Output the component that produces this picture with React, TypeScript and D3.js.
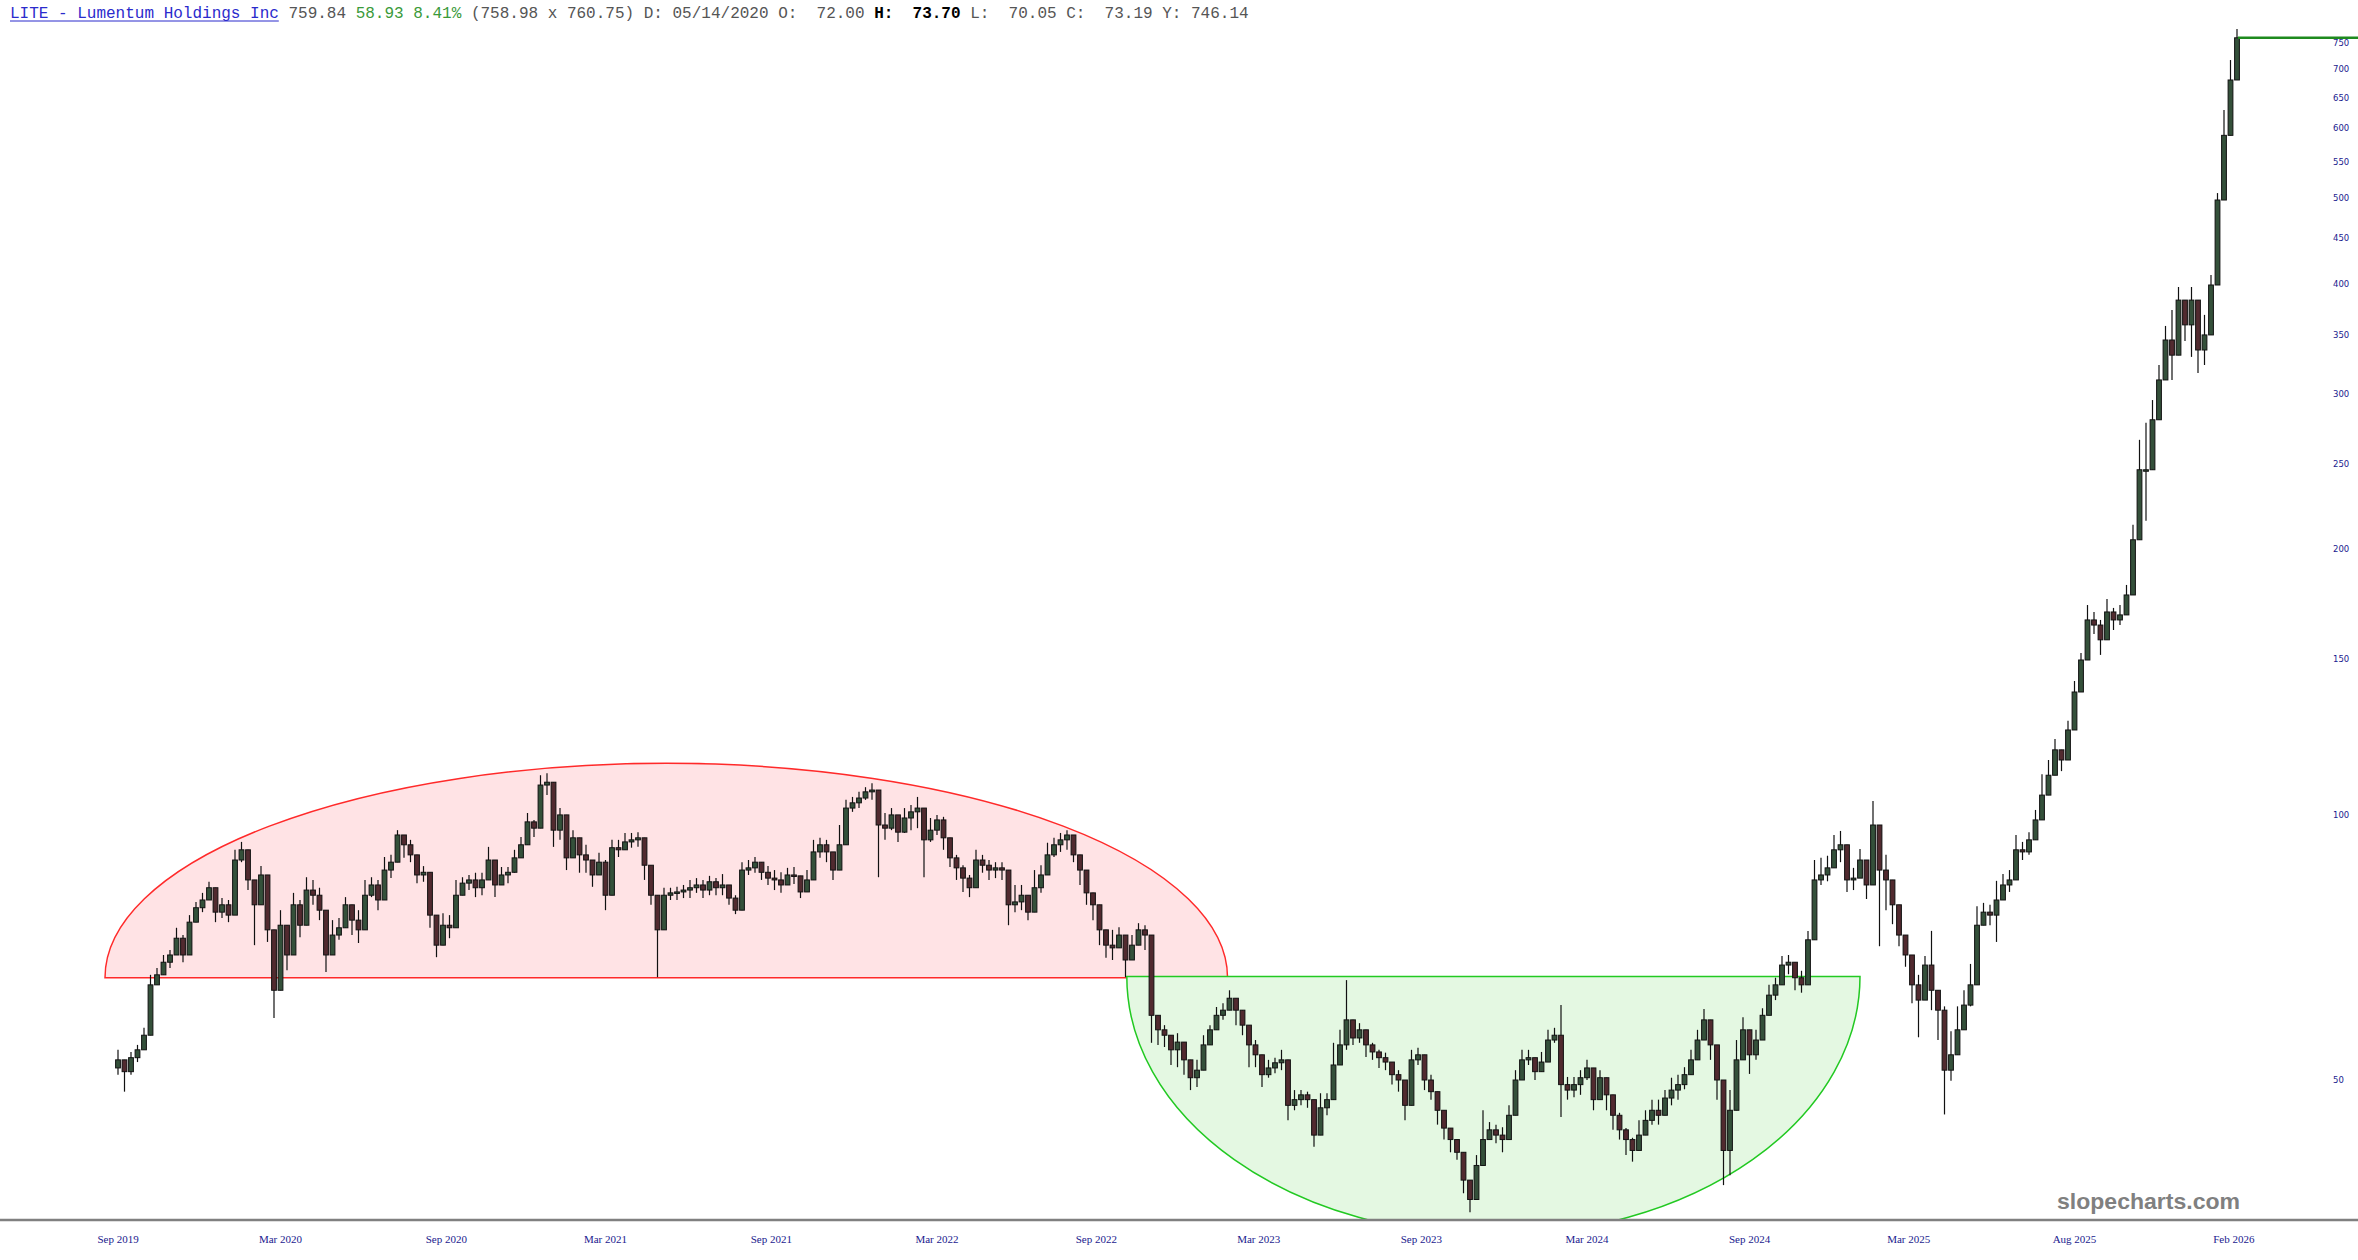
import React from "react";
import * as d3 from "d3";

// Weekly bars: [high, low, close]; open = previous close
const firstOpen = 51.6;

const barsAug2019toFeb2021: [number, number, number][] = [
  [54.1,50.7,52.7],[52.4,48.5,51.1],[53.8,50.7,53.0],[54.8,52.4,54.1],[57.3,54.1,56.2],[65.8,61.6,64.1],[67.0,64.1,65.8],[69.3,66.3,68.0],[70.2,67.0,69.3],[74.4,69.8,72.4],
  [73.0,68.0,69.3],[76.9,73.6,75.5],[79.6,76.7,78.4],[81.5,77.5,80.0],[83.9,80.4,82.6],[81.0,75.5,77.5],[80.4,76.3,79.0],[80.0,75.5,76.9],[91.2,81.0,88.8],[93.1,88.3,91.2],
  [87.6,82.1,84.3],[81.0,71.1,79.0],[87.4,81.7,85.4],[77.5,71.7,74.0],[73.0,58.8,63.2],[77.9,68.4,74.9],[74.5,66.6,69.3],[81.5,74.9,79.0],[80.0,72.6,74.9],[84.9,79.0,82.1],
  [84.3,79.0,81.0],[82.6,75.9,77.9],[74.0,66.3,69.3],[75.9,70.8,73.0],[76.3,72.1,74.4],[80.6,75.3,79.0],[78.6,73.0,75.9],[77.9,71.5,74.0],[84.3,76.9,81.0],[84.9,80.6,83.2],
  [84.3,77.9,80.0],[89.5,84.3,86.5],[90.0,84.7,88.3],[96.0,92.4,94.8],[94.3,89.3,92.4],[93.6,88.3,90.0],[87.2,83.6,85.4],[87.4,83.9,86.0],[80.0,74.4,76.9],[74.0,68.9,71.1],
  [77.3,72.1,74.9],[76.9,72.4,74.4],[84.3,77.3,81.0],[84.9,82.1,83.6],[85.4,82.1,84.3],[85.9,80.6,82.6],[85.9,81.0,84.3],[91.9,86.0,88.8],[85.9,80.6,83.2],[87.2,83.2,85.4],
  [87.2,83.6,86.0],[91.2,85.9,89.3],[94.3,90.5,92.4],[100.4,94.8,98.1],[98.6,94.3,96.5],[110.8,103.9,108.0],[111.4,105.2,108.8],[99.9,91.9,96.0],[101.7,93.6,99.9],[91.9,86.5,89.3],
  [96.0,91.2,94.1],[92.9,85.9,90.0],[92.4,85.9,88.8],[88.1,82.8,85.4],[90.5,85.4,88.3],
];

const barsMar2021toNov2022: [number, number, number][] = [
  [88.8,77.9,81.0],[93.6,88.8,91.7],[93.6,89.5,91.2],[95.3,91.2,93.1],[95.3,91.7,93.6],
  [95.5,91.9,94.1],[91.2,84.3,87.6],[85.4,79.0,81.0],[80.0,65.4,74.0],[82.6,79.0,81.0],[82.6,80.0,81.5],[82.8,80.0,81.7],[83.2,80.4,82.1],[84.3,80.4,82.6],[84.7,81.5,83.2],
  [84.3,80.4,82.1],[85.2,81.0,83.9],[84.7,81.0,82.6],[85.6,81.0,83.2],[83.2,79.0,80.4],[81.0,77.1,77.9],[88.3,83.2,86.5],[88.8,85.4,87.0],[89.5,85.9,88.3],[88.3,84.3,86.0],
  [87.4,83.2,84.7],[86.5,82.1,84.3],[86.0,81.5,83.2],[87.0,83.2,85.4],[87.2,83.4,85.2],[84.3,80.4,81.7],[86.5,81.7,84.3],[93.6,88.3,90.7],[94.1,89.3,92.4],[93.6,88.3,90.7],
  [90.0,84.3,86.5],[97.3,90.0,92.4],[103.9,96.0,101.7],[104.7,100.7,103.1],[106.1,101.7,104.4],[107.4,103.9,106.1],[108.5,103.9,106.6],[105.2,84.9,97.3],[100.4,93.6,96.5],[101.7,96.0,99.9],
  [99.9,93.1,95.5],[101.7,95.3,99.1],[102.5,96.0,100.7],[104.7,96.5,101.7],[96.0,84.9,93.6],[99.1,93.1,96.0],[99.9,94.8,98.6],[99.4,91.2,94.1],[91.7,87.2,89.3],[90.0,84.3,87.0],
  [87.6,81.7,84.7],[85.4,80.6,82.6],[91.2,86.5,88.8],[90.0,85.9,87.6],[88.8,84.3,86.5],[88.3,84.7,87.0],[88.3,84.3,86.5],[82.6,74.9,79.0],[83.2,77.5,79.6],[83.2,77.9,81.0],
  [80.0,75.9,77.5],[86.5,80.0,82.6],[87.6,81.5,85.4],[92.9,87.6,90.0],[94.1,89.5,92.4],[95.3,90.7,93.6],[96.0,91.2,94.8],[92.9,88.3,90.0],[88.8,83.2,86.5],[84.3,79.0,81.5],
  [81.5,75.9,79.0],[76.9,71.1,74.0],[73.0,68.8,71.1],[74.0,68.4,70.6],[74.5,71.1,73.0],[72.1,65.4,68.4],[73.0,69.3,71.1],[75.3,72.1,74.0],[74.9,70.2,73.0],
];

const barsNov2022toApr2024: [number, number, number][] = [
  [61.6,55.1,59.2],
  [58.5,54.8,57.0],[57.7,54.5,56.2],[55.9,52.0,54.1],[56.5,51.7,55.2],[54.8,50.7,52.7],[52.0,48.7,50.3],[52.7,49.1,51.3],[56.2,52.0,54.8],[57.7,55.5,57.0],[60.5,58.2,59.2],
  [61.1,58.5,60.0],[63.2,60.5,61.9],[61.6,57.7,60.0],[60.0,56.2,57.7],[56.5,51.7,54.8],[55.5,51.7,53.4],[52.3,49.1,50.7],[52.7,50.3,51.6],[53.0,50.9,52.3],[54.1,51.3,52.7],
  [48.3,45.0,46.8],[48.7,46.2,47.5],[48.7,46.8,48.1],[48.5,46.5,47.5],[46.2,42.0,43.3],[48.3,45.4,46.5],[48.3,45.6,47.5],[55.1,50.0,52.0],[57.0,52.7,54.8],[64.9,54.1,58.5],
  [58.0,54.8,55.8],[58.0,55.1,57.0],[55.8,53.1,54.8],[55.1,52.7,53.8],[54.1,51.6,53.0],[53.7,51.3,52.4],[51.7,49.4,50.7],[51.3,48.5,50.0],[49.1,45.0,46.8],[54.1,51.1,52.7],
  [54.4,52.0,53.4],[51.3,48.7,50.0],[50.7,47.5,48.5],[47.5,44.5,46.2],[45.3,42.8,44.1],[43.9,41.4,42.8],[42.2,40.6,41.4],[39.8,37.2,38.5],[37.5,35.4,36.6],[41.1,38.5,40.0],
  [46.2,40.0,42.8],[44.8,42.8,43.9],[44.5,42.4,43.3],[44.2,41.4,42.8],[46.8,44.5,45.6],[51.3,48.7,50.0],[54.1,51.6,52.7],[54.1,52.0,53.0],[52.0,50.0,51.1],[53.8,51.6,52.4],
  [57.0,54.1,55.5],[57.3,55.1,56.2],[60.8,45.4,49.4],[50.4,47.5,48.7],[50.4,47.8,49.4],[51.3,48.1,50.3],[52.7,50.0,51.6],[49.1,46.2,47.5],[51.3,49.0,50.3],[49.4,46.2,48.1],
  [48.1,43.9,45.6],[45.9,42.8,43.9],
];

const barsMay2024toFeb2026: [number, number, number][] = [
  [44.1,41.1,42.8],[43.0,40.4,41.6],[45.0,41.6,43.3],[46.2,43.3,45.0],[47.5,44.5,46.2],[47.5,44.5,45.6],[48.7,46.2,47.7],[50.3,46.8,48.7],
  [50.7,47.5,49.4],[51.7,48.8,50.7],[54.1,51.3,52.7],[57.0,53.4,55.5],[60.2,56.2,58.5],[57.0,52.7,54.8],[52.7,47.5,50.0],[47.5,38.0,41.6],[48.7,39.0,46.2],[55.5,50.0,52.7],
  [58.9,54.1,57.0],[55.6,50.8,53.4],[57.0,52.7,55.5],[60.3,57.0,59.2],[64.1,60.6,62.4],[65.3,61.6,64.1],[69.1,65.8,67.5],[69.3,65.9,68.0],[67.0,63.2,65.3],[66.5,62.8,64.1],
  [73.8,67.7,72.1],[88.8,79.4,84.3],[89.3,83.2,85.4],[89.8,84.0,87.0],[94.8,87.2,91.2],[95.8,88.3,92.4],[87.2,81.7,84.3],[87.0,82.1,84.7],[91.4,84.7,88.8],[86.5,80.2,83.2],
  [103.6,92.1,97.3],[93.8,70.9,86.5],[90.0,77.9,84.3],[80.8,75.1,79.0],[76.5,70.9,73.0],[72.2,67.2,69.3],[67.2,61.1,64.1],[65.8,55.9,61.6],[69.1,63.4,67.5],[73.8,60.0,63.2],
  [63.2,55.5,60.0],[60.6,45.7,51.3],[56.8,49.9,53.4],[60.6,55.2,57.0],[63.2,59.2,60.8],[67.7,60.6,64.1],[78.7,70.9,74.9],[79.4,75.7,77.5],[79.0,74.9,76.9],[84.1,71.7,80.0],
  [85.6,80.8,83.2],[86.5,81.7,84.3],[94.8,87.9,91.2],[93.1,88.8,90.7],[95.5,90.0,93.6],[101.2,95.8,98.6],[111.1,101.2,105.2],[115.3,106.9,110.8],[121.8,115.3,118.4],[118.4,112.0,115.3],
  [127.7,119.7,124.7],[141.7,133.9,137.7],[152.5,146.8,149.7],[172.8,161.5,166.2],[169.7,160.2,164.0],[166.2,151.7,157.8],[175.5,164.0,169.7],[171.5,161.9,166.2],[172.8,164.0,168.4],[182.1,169.7,177.4],
  [213.1,181.2,204.9],[266.0,215.9,246.0],[278.1,215.3,246.0],[295.1,259.2,280.3],[323.4,289.2,311.0],[358.1,323.4,345.2],[373.4,311.0,331.8],[396.4,361.9,383.1],[381.1,344.3,359.1],[396.4,330.3,383.1],
  [361.9,316.7,336.3],[368.6,323.4,349.8],[409.0,361.9,398.5],[506.6,422.0,497.5],[629.3,526.8,589.0],[717.0,597.3,680.6],[777.5,690.0,759.84],
];

const yTickValues = [50, 100, 150, 200, 250, 300, 350, 400, 450, 500, 550, 600, 650, 700, 750];
const xTickLabels = ["Sep 2019", "Mar 2020", "Sep 2020", "Mar 2021", "Sep 2021", "Mar 2022", "Sep 2022", "Mar 2023", "Sep 2023", "Mar 2024", "Sep 2024", "Mar 2025", "Aug 2025", "Feb 2026"];
const xTickBars = [0, 25, 50.5, 75, 100.5, 126, 150.5, 175.5, 200.5, 226, 251, 275.5, 301, 325.5];

const lastPrice = 759.84;

// Annotation half-ellipses: bar span, base price, extreme price
const topZone = { startBar: -2, endBar: 170.7, basePrice: 65.3, edgePrice: 114.3 };
const bottomZone = { startBar: 155.2, endBar: 268, basePrice: 65.5, edgePrice: 33.3 };

const W = 2358;
const H = 1260;
const AXIS_Y = 1220;

export default function App() {
  const bars = [...barsAug2019toFeb2021, ...barsMar2021toNov2022, ...barsNov2022toApr2024, ...barsMay2024toFeb2026];
  const n = bars.length;
  const x = d3.scaleLinear().domain([0, 326]).range([118, 2237]);
  const y = d3.scaleLog().domain([50, 750]).range([1080, 42.8]);

  const zonePath = (z: typeof topZone, upper: boolean) => {
    const x0 = x(z.startBar);
    const x1 = x(z.endBar);
    const cy = y(z.basePrice);
    const rx = (x1 - x0) / 2;
    const ry = Math.abs(y(z.edgePrice) - cy);
    return `M${x0},${cy} A${rx},${ry} 0 0 ${upper ? 1 : 0} ${x1},${cy} Z`;
  };

  const mono = "'Liberation Mono', 'DejaVu Sans Mono', monospace";

  return (
    <div style={{ position: "absolute", left: 0, top: 0, width: W, height: H, background: "#fff" }}>
      <svg width={W} height={H} style={{ display: "block" }}>
        <defs>
          <clipPath id="plotClip">
            <rect x={0} y={0} width={W} height={AXIS_Y} />
          </clipPath>
        </defs>
        <rect x={0} y={0} width={W} height={H} fill="#ffffff" />
        <g clipPath="url(#plotClip)">
          <path d={zonePath(topZone, true)} fill="#ffe3e5" stroke="#ff2a2a" strokeWidth={1.5} />
          <path d={zonePath(bottomZone, false)} fill="#e4f8e2" stroke="#22c922" strokeWidth={1.5} />
          {bars.map((b, i) => {
            const [h, l, c] = b;
            const o = i === 0 ? firstOpen : bars[i - 1][2];
            const up = c >= o;
            const cx = x(i);
            const top = y(Math.max(o, c));
            const bot = y(Math.min(o, c));
            const hiY = y(Math.max(h, o, c));
            const loY = y(Math.min(l, o, c));
            return (
              <g key={i}>
                <line x1={cx} x2={cx} y1={hiY} y2={loY} stroke="#111111" strokeWidth={1.2} />
                <rect x={cx - 2.4} y={top} width={4.8} height={Math.max(1.5, bot - top)}
                  fill={up ? "#34503a" : "#512a2f"} stroke="#121212" strokeWidth={1} />
              </g>
            );
          })}
        </g>
        <line x1={0} x2={W} y1={AXIS_Y} y2={AXIS_Y} stroke="#808080" strokeWidth={2.5} />
        {xTickLabels.map((t, i) => (
          <text key={t} x={x(xTickBars[i])} y={1242.5} textAnchor="middle"
            fontFamily="'Liberation Serif', 'Times New Roman', serif" fontSize={11} fill="#1a1a8e">{t}</text>
        ))}
        {yTickValues.map((v) => (
          <text key={v} x={2333} y={y(v)} dominantBaseline="central"
            fontFamily="'DejaVu Sans', Verdana, sans-serif" fontSize={8.5} fill="#1a1a8e">{v}</text>
        ))}
        <line x1={x(n - 1) + 1} x2={W} y1={y(lastPrice)} y2={y(lastPrice)} stroke="#1e8a1e" strokeWidth={2.5} />
        <text x={2057} y={1209} fontFamily="'Liberation Sans', Arial, sans-serif" fontWeight="bold"
          fontSize={22} fill="#808080" textLength={183} lengthAdjust="spacingAndGlyphs">slopecharts.com</text>
        <text x={10} y={18} fontFamily={mono} fontSize={16} style={{ whiteSpace: "pre" }}>
          <tspan fill="#2b2bcc">{"LITE - Lumentum Holdings Inc"}</tspan>
          <tspan fill="#555555">{" 759.84 "}</tspan>
          <tspan fill="#3a9a3a">{"58.93 8.41%"}</tspan>
          <tspan fill="#555555">{" (758.98 x 760.75) D: 05/14/2020 O:  72.00 "}</tspan>
          <tspan fill="#000000" fontWeight="bold">{"H:  73.70"}</tspan>
          <tspan fill="#555555">{" L:  70.05 C:  73.19 Y: 746.14"}</tspan>
        </text>
        <line x1={10} x2={10 + 28 * 9.6} y1={21} y2={21} stroke="#2b2bcc" strokeWidth={1} />
      </svg>
    </div>
  );
}
